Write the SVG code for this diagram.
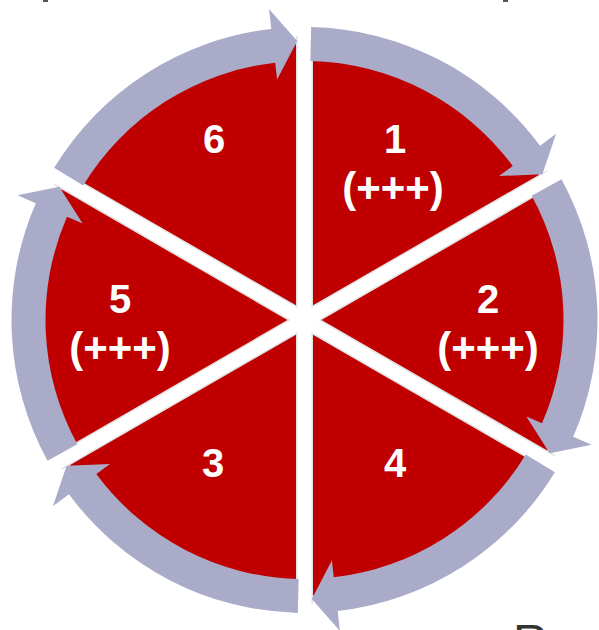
<svg xmlns="http://www.w3.org/2000/svg" xmlns:xlink="http://www.w3.org/1999/xlink" width="599" height="630" viewBox="0 0 599 630">
  <style>
    .sector { fill: #c00000; }
    .sep-edge { stroke: #e2e2e2; stroke-width: 17; stroke-linecap: butt; }
    .sep { stroke: #ffffff; stroke-width: 14; stroke-linecap: butt; }
    .arrow { fill: #a9abc8; }
    .lbl { font-family: "Liberation Sans", Arial, sans-serif; font-weight: bold; font-size: 40px; fill: #ffffff; text-anchor: middle; }
    .sub { font-size: 42px; }
    .frag { font-family: "Liberation Sans", Arial, sans-serif; font-size: 48px; fill: #333333; }
  </style>
  <defs>
    <path id="arc-arrow" class="arrow" d="M 6.65,-292.92 A 293 293 0 0 1 235.53,-174.28 L 251.6,-186.2 L 237.89,-145.78 L 194.5,-143.9 L 208.20,-154.06 A 259 259 0 0 0 5.88,-258.93 Z"/>
  </defs>
  <rect x="0" y="0" width="599" height="630" fill="#ffffff"/>

  <!-- fragments of cut-off surrounding content -->
  <rect x="43" y="0" width="5" height="2" fill="#555555"/>
  <rect x="503" y="0" width="5" height="2" fill="#555555"/>
  <text class="frag" x="513" y="658">R</text>

  <!-- sectors (nodes) -->
  <g id="node-1"><path class="sector" d="M304.5,320 L304.5,44 A276,276 0 0 1 543.5,182 Z"/></g>
  <g id="node-2"><path class="sector" d="M304.5,320 L543.5,182 A276,276 0 0 1 543.5,458 Z"/></g>
  <g id="node-4"><path class="sector" d="M304.5,320 L543.5,458 A276,276 0 0 1 304.5,596 Z"/></g>
  <g id="node-3"><path class="sector" d="M304.5,320 L304.5,596 A276,276 0 0 1 65.5,458 Z"/></g>
  <g id="node-5"><path class="sector" d="M304.5,320 L65.5,458 A276,276 0 0 1 65.5,182 Z"/></g>
  <g id="node-6"><path class="sector" d="M304.5,320 L65.5,182 A276,276 0 0 1 304.5,44 Z"/></g>

  <!-- separators -->
  <g id="separators">
    <line class="sep-edge" x1="304.5" y1="36" x2="304.5" y2="604"/>
    <line class="sep-edge" x1="57.7" y1="462.5" x2="551.3" y2="177.5"/>
    <line class="sep-edge" x1="57.7" y1="177.5" x2="551.3" y2="462.5"/>
    <line class="sep" x1="304.5" y1="35" x2="304.5" y2="605"/>
    <line class="sep" x1="57" y1="463" x2="552" y2="177"/>
    <line class="sep" x1="57" y1="177" x2="552" y2="463"/>
  </g>

  <!-- labels -->
  <g id="label-1"><text class="lbl" x="395" y="153">1</text><text class="lbl sub" x="393" y="202">(+++)</text></g>
  <g id="label-2"><text class="lbl" x="488" y="313">2</text><text class="lbl sub" x="488" y="362">(+++)</text></g>
  <g id="label-4"><text class="lbl" x="395" y="477">4</text></g>
  <g id="label-3"><text class="lbl" x="213" y="477">3</text></g>
  <g id="label-5"><text class="lbl" x="120" y="313">5</text><text class="lbl sub" x="120" y="362">(+++)</text></g>
  <g id="label-6"><text class="lbl" x="214" y="153">6</text></g>

  <!-- connectors: curved arrows around the wheel -->
  <g id="connectors" transform="translate(304.5,320)">
    <use xlink:href="#arc-arrow" href="#arc-arrow"/>
    <use xlink:href="#arc-arrow" href="#arc-arrow" transform="rotate(60)"/>
    <use xlink:href="#arc-arrow" href="#arc-arrow" transform="rotate(120)"/>
    <use xlink:href="#arc-arrow" href="#arc-arrow" transform="rotate(180)"/>
    <use xlink:href="#arc-arrow" href="#arc-arrow" transform="rotate(240)"/>
    <use xlink:href="#arc-arrow" href="#arc-arrow" transform="rotate(300)"/>
  </g>
</svg>
